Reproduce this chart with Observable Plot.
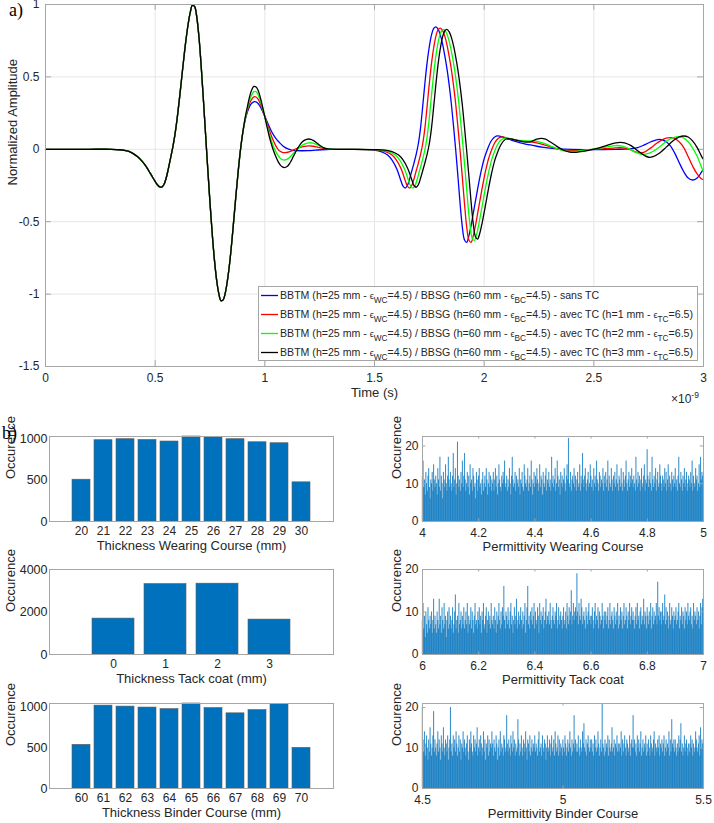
<!DOCTYPE html>
<html>
<head>
<meta charset="utf-8">
<script src="https://cdn.jsdelivr.net/npm/d3@7"></script>
<script src="https://cdn.jsdelivr.net/npm/@observablehq/plot@0.6"></script>
<style>
  body { margin: 0; background: #fff; }
  #fig { position: relative; width: 714px; height: 823px; overflow: hidden; background: #fff;
         font-family: "Liberation Sans", Arial, Helvetica, sans-serif; color: #262626; }
  #fig > * { position: absolute; }
  #fig svg { display: block; }
  .tag { font-family: "Liberation Serif", "Times New Roman", serif; font-size: 18px; line-height: 20px; color: #000; }
  .legend { border: 1px solid #a6a6a6; background: #fff; box-sizing: border-box; font-size: 10.6px; color: #262626; }
  .legend .row { position: absolute; left: 2px; height: 14px; line-height: 14px; white-space: nowrap; }
  .legend .swatch { position: absolute; left: 0; top: 0; }
  .legend .txt { position: absolute; left: 19px; top: 0; }
  .eps { font-size: 0.85em; }
  .legend sub { font-size: 0.78em; vertical-align: -0.45em; line-height: 0; }
  .exp { font-size: 12px; line-height: 12px; color: #262626; }
  .exp sup { font-size: 8.5px; vertical-align: 0.55em; line-height: 0; }
</style>
</head>
<body>
<div id="fig"></div>
<script>
// ---------- a) normalized radar traces, time in ns ----------
const runs = ["sans TC", "TC 1 mm", "TC 2 mm", "TC 3 mm"];
const runColors = ["#0000ff", "#ff0000", "#00ff00", "#000000"];
const legendTexts = [
  'BBTM (h=25 mm - <span class="eps">ϵ</span><sub>WC</sub>=4.5) / BBSG (h=60 mm - <span class="eps">ϵ</span><sub>BC</sub>=4.5) - sans TC',
  'BBTM (h=25 mm - <span class="eps">ϵ</span><sub>WC</sub>=4.5) / BBSG (h=60 mm - <span class="eps">ϵ</span><sub>BC</sub>=4.5) - avec TC (h=1 mm - <span class="eps">ϵ</span><sub>TC</sub>=6.5)',
  'BBTM (h=25 mm - <span class="eps">ϵ</span><sub>WC</sub>=4.5) / BBSG (h=60 mm - <span class="eps">ϵ</span><sub>BC</sub>=4.5) - avec TC (h=2 mm - <span class="eps">ϵ</span><sub>TC</sub>=6.5)',
  'BBTM (h=25 mm - <span class="eps">ϵ</span><sub>WC</sub>=4.5) / BBSG (h=60 mm - <span class="eps">ϵ</span><sub>BC</sub>=4.5) - avec TC (h=3 mm - <span class="eps">ϵ</span><sub>TC</sub>=6.5)'
];
const timeTicks = [0, 0.5, 1, 1.5, 2, 2.5, 3];
const ampTicks = [-1.5, -1, -0.5, 0, 0.5, 1];

// direct wave, identical for the four structures: [t (ns), amplitude]
const onsetTrace = [[0,0],[0.1,0],[0.2,0],[0.3,0],[0.34,-0.003],[0.36,-0.007],[0.38,-0.015],[0.40,-0.030],[0.42,-0.052],[0.44,-0.082],[0.46,-0.122],[0.48,-0.172],[0.50,-0.222],[0.51,-0.245],[0.52,-0.259],[0.53,-0.261],[0.54,-0.243],[0.55,-0.200],[0.56,-0.135],[0.57,-0.062],[0.58,0.012],[0.59,0.100],[0.60,0.210],[0.61,0.340],[0.62,0.480],[0.63,0.620],[0.64,0.750],[0.65,0.860],[0.66,0.945],[0.67,0.995],[0.68,0.985],[0.69,0.910],[0.70,0.770],[0.71,0.570],[0.72,0.340],[0.73,0.100],[0.74,-0.140],[0.75,-0.370],[0.76,-0.580],[0.77,-0.760],[0.78,-0.900],[0.79,-0.995],[0.80,-1.045],[0.81,-1.040],[0.82,-0.990],[0.83,-0.900],[0.84,-0.780],[0.85,-0.630],[0.86,-0.460],[0.87,-0.290],[0.88,-0.130],[0.89,0.010],[0.90,0.120]];

// surface / interface echoes for each structure
const echoSansTC = [[0.91,0.200],[0.92,0.255],[0.93,0.295],[0.94,0.318],[0.95,0.328],[0.96,0.327],[0.97,0.315],[0.98,0.292],[0.99,0.262],[1.00,0.228],[1.01,0.192],[1.02,0.157],[1.03,0.125],[1.04,0.098],[1.05,0.076],[1.06,0.057],[1.07,0.041],[1.08,0.027],[1.09,0.015],[1.10,0.006],[1.11,0.000],[1.12,-0.005],[1.14,-0.009],[1.17,-0.010],[1.20,-0.009],[1.23,-0.006],[1.26,-0.003],[1.30,-0.001],[1.40,0],[1.46,-0.002],
  [1.50,-0.006],[1.53,-0.016],[1.56,-0.040],[1.58,-0.075],[1.60,-0.130],[1.61,-0.170],[1.62,-0.215],[1.63,-0.255],[1.64,-0.268],[1.65,-0.250],[1.66,-0.205],[1.67,-0.150],[1.68,-0.095],[1.69,-0.035],[1.70,0.040],[1.71,0.150],[1.72,0.300],[1.73,0.460],[1.74,0.600],[1.75,0.710],[1.76,0.790],[1.77,0.835],[1.78,0.846],[1.79,0.830],[1.80,0.790],[1.81,0.730],[1.82,0.650],[1.83,0.560],[1.84,0.450],[1.85,0.320],[1.86,0.165],[1.87,0.000],[1.88,-0.180],[1.89,-0.370],[1.90,-0.530],[1.91,-0.625],[1.92,-0.643],[1.93,-0.600],[1.94,-0.530],[1.95,-0.445],[1.96,-0.360],[1.97,-0.275],[1.98,-0.195],[1.99,-0.125],[2.00,-0.065],[2.01,-0.020],[2.02,0.020],[2.03,0.052],[2.04,0.074],[2.05,0.087],[2.06,0.092],[2.07,0.091],[2.08,0.087],[2.10,0.076],
  [2.12,0.066],[2.15,0.052],[2.18,0.040],[2.21,0.030],[2.24,0.021],[2.27,0.014],[2.30,0.008],[2.34,0.003],[2.40,0.000],[2.50,-0.002],[2.60,0.000],[2.66,0.003],[2.70,0.012],[2.73,0.030],[2.76,0.052],[2.79,0.067],[2.81,0.066],[2.83,0.052],[2.85,0.022],[2.87,-0.030],[2.89,-0.095],[2.91,-0.155],[2.93,-0.198],[2.95,-0.212],[2.97,-0.200],[2.99,-0.160],[3.00,-0.135]];

const echoTC1 = [[0.91,0.205],[0.92,0.265],[0.93,0.315],[0.94,0.345],[0.95,0.362],[0.96,0.361],[0.97,0.345],[0.98,0.312],[0.99,0.270],[1.00,0.226],[1.01,0.180],[1.02,0.135],[1.03,0.092],[1.04,0.055],[1.05,0.024],[1.06,0.000],[1.07,-0.014],[1.08,-0.021],[1.09,-0.023],[1.10,-0.022],[1.11,-0.018],[1.12,-0.012],[1.13,-0.005],[1.14,0.002],[1.16,0.013],[1.18,0.020],[1.20,0.023],[1.22,0.021],[1.24,0.015],[1.26,0.008],[1.28,0.003],[1.30,0.000],[1.40,0],[1.48,-0.002],
  [1.52,-0.006],[1.55,-0.016],[1.58,-0.040],[1.60,-0.075],[1.62,-0.130],[1.63,-0.170],[1.64,-0.215],[1.65,-0.255],[1.66,-0.268],[1.67,-0.250],[1.68,-0.205],[1.69,-0.150],[1.70,-0.095],[1.71,-0.035],[1.72,0.040],[1.73,0.150],[1.74,0.300],[1.75,0.455],[1.76,0.595],[1.77,0.703],[1.78,0.782],[1.79,0.826],[1.80,0.837],[1.81,0.822],[1.82,0.783],[1.83,0.725],[1.84,0.645],[1.85,0.555],[1.86,0.445],[1.87,0.315],[1.88,0.160],[1.89,-0.005],[1.90,-0.185],[1.91,-0.370],[1.92,-0.530],[1.93,-0.625],[1.94,-0.643],[1.95,-0.600],[1.96,-0.530],[1.97,-0.445],[1.98,-0.360],[1.99,-0.275],[2.00,-0.195],[2.01,-0.125],[2.02,-0.065],[2.03,-0.020],[2.04,0.020],[2.05,0.050],[2.06,0.070],[2.07,0.081],[2.08,0.085],[2.09,0.084],[2.10,0.080],
  [2.12,0.072],[2.15,0.062],[2.18,0.056],[2.21,0.052],[2.24,0.045],[2.27,0.033],[2.30,0.018],[2.33,0.005],[2.37,-0.006],[2.41,-0.009],[2.45,-0.006],[2.50,0.000],[2.55,0.004],[2.60,0.010],[2.63,0.010],[2.66,0.002],[2.69,-0.018],[2.71,-0.024],[2.73,-0.020],[2.76,0.010],[2.79,0.045],[2.82,0.072],[2.85,0.080],[2.87,0.073],[2.89,0.050],[2.91,0.012],[2.93,-0.050],[2.95,-0.115],[2.97,-0.168],[2.99,-0.203],[3.00,-0.210]];

const echoTC2 = [[0.91,0.210],[0.92,0.275],[0.93,0.335],[0.94,0.375],[0.95,0.398],[0.96,0.398],[0.97,0.375],[0.98,0.333],[0.99,0.280],[1.00,0.225],[1.01,0.166],[1.02,0.110],[1.03,0.060],[1.04,0.018],[1.05,-0.016],[1.06,-0.042],[1.07,-0.061],[1.08,-0.072],[1.09,-0.074],[1.10,-0.070],[1.11,-0.060],[1.12,-0.045],[1.13,-0.028],[1.14,-0.012],[1.15,0.003],[1.16,0.016],[1.18,0.036],[1.20,0.045],[1.22,0.042],[1.24,0.030],[1.26,0.016],[1.28,0.006],[1.30,0.001],[1.40,0],[1.50,-0.002],
  [1.535,-0.006],[1.565,-0.016],[1.595,-0.040],[1.615,-0.075],[1.635,-0.130],[1.645,-0.170],[1.655,-0.215],[1.665,-0.255],[1.675,-0.268],[1.685,-0.250],[1.695,-0.205],[1.705,-0.150],[1.715,-0.095],[1.725,-0.035],[1.735,0.040],[1.745,0.148],[1.755,0.296],[1.765,0.450],[1.775,0.588],[1.785,0.695],[1.795,0.773],[1.805,0.817],[1.815,0.828],[1.825,0.813],[1.835,0.775],[1.845,0.718],[1.855,0.640],[1.865,0.550],[1.875,0.440],[1.885,0.312],[1.895,0.158],[1.905,-0.005],[1.915,-0.180],[1.925,-0.362],[1.935,-0.518],[1.945,-0.612],[1.955,-0.630],[1.965,-0.590],[1.975,-0.522],[1.985,-0.440],[1.995,-0.357],[2.005,-0.273],[2.015,-0.195],[2.025,-0.127],[2.035,-0.068],[2.045,-0.024],[2.055,0.014],[2.065,0.043],[2.075,0.062],[2.085,0.072],[2.095,0.076],[2.11,0.075],
  [2.13,0.070],[2.16,0.062],[2.19,0.058],[2.22,0.058],[2.25,0.052],[2.28,0.037],[2.31,0.018],[2.34,0.000],[2.37,-0.013],[2.40,-0.015],[2.44,-0.010],[2.48,-0.002],[2.52,0.006],[2.56,0.016],[2.60,0.026],[2.63,0.022],[2.66,0.005],[2.69,-0.020],[2.72,-0.035],[2.75,-0.028],[2.78,-0.005],[2.81,0.030],[2.84,0.065],[2.87,0.084],[2.89,0.087],[2.91,0.078],[2.93,0.052],[2.95,0.010],[2.97,-0.045],[2.99,-0.120],[3.00,-0.155]];

const echoTC3 = [[0.91,0.215],[0.92,0.290],[0.93,0.360],[0.94,0.410],[0.95,0.434],[0.96,0.430],[0.97,0.405],[0.98,0.355],[0.99,0.292],[1.00,0.224],[1.01,0.155],[1.02,0.090],[1.03,0.035],[1.04,-0.012],[1.05,-0.050],[1.06,-0.083],[1.07,-0.107],[1.08,-0.121],[1.09,-0.126],[1.10,-0.121],[1.11,-0.105],[1.12,-0.080],[1.13,-0.050],[1.14,-0.020],[1.15,0.008],[1.16,0.031],[1.17,0.050],[1.18,0.062],[1.19,0.069],[1.20,0.071],[1.21,0.069],[1.22,0.062],[1.23,0.052],[1.24,0.040],[1.25,0.028],[1.26,0.018],[1.27,0.010],[1.28,0.005],[1.30,0.001],[1.40,0],[1.50,-0.002],
  [1.55,-0.006],[1.58,-0.016],[1.61,-0.040],[1.63,-0.073],[1.65,-0.127],[1.66,-0.166],[1.67,-0.210],[1.68,-0.250],[1.69,-0.262],[1.70,-0.245],[1.71,-0.200],[1.72,-0.147],[1.73,-0.093],[1.74,-0.034],[1.75,0.040],[1.76,0.148],[1.77,0.296],[1.78,0.450],[1.79,0.588],[1.80,0.695],[1.81,0.773],[1.82,0.817],[1.83,0.828],[1.84,0.813],[1.85,0.775],[1.86,0.718],[1.87,0.640],[1.88,0.550],[1.89,0.440],[1.90,0.312],[1.91,0.158],[1.92,-0.005],[1.93,-0.178],[1.94,-0.357],[1.95,-0.510],[1.96,-0.602],[1.97,-0.620],[1.98,-0.580],[1.99,-0.515],[2.00,-0.435],[2.01,-0.352],[2.02,-0.270],[2.03,-0.193],[2.04,-0.125],[2.05,-0.068],[2.06,-0.025],[2.07,0.012],[2.08,0.040],[2.09,0.060],[2.10,0.071],[2.11,0.074],[2.12,0.072],
  [2.15,0.062],[2.18,0.052],[2.20,0.050],[2.22,0.057],[2.24,0.070],[2.26,0.076],[2.28,0.070],[2.30,0.052],[2.33,0.022],[2.36,-0.005],[2.39,-0.019],[2.42,-0.021],[2.45,-0.015],[2.48,-0.005],[2.51,0.005],[2.54,0.018],[2.57,0.032],[2.60,0.044],[2.62,0.048],[2.64,0.045],[2.67,0.025],[2.70,-0.010],[2.73,-0.042],[2.75,-0.055],[2.77,-0.050],[2.80,-0.025],[2.83,0.015],[2.86,0.058],[2.89,0.086],[2.91,0.092],[2.93,0.085],[2.95,0.058],[2.97,0.015],[2.99,-0.045],[3.00,-0.070]];

// ---------- b) Monte-Carlo draws of layer thickness and permittivity ----------
const wearingThickness = [20, 21, 22, 23, 24, 25, 26, 27, 28, 29, 30];
const wearingThicknessCount = [508, 988, 1000, 991, 972, 1033, 1024, 1000, 963, 951, 476];
const tackThickness = [0, 1, 2, 3];
const tackThicknessCount = [1690, 3315, 3333, 1643];
const binderThickness = [60, 61, 62, 63, 64, 65, 66, 67, 68, 69, 70];
const binderThicknessCount = [537, 1020, 1008, 996, 977, 1046, 990, 925, 965, 1040, 500];

const wearingPermittivityRange = [4, 5];
const wearingPermittivityCount = [
  12,16,9,11,7,13,10,8,12,14,9,6,11,10,13,8,15,11,9,12,
  10,7,14,11,9,17,8,12,10,6,13,11,9,15,10,8,12,17,11,9,
  13,10,8,12,18,9,11,14,7,10,21,12,9,11,8,13,10,16,9,12,
  18,11,8,10,13,9,12,7,15,10,11,8,14,12,9,10,6,13,11,8,
  12,14,9,10,7,11,13,8,10,12,9,14,11,7,10,13,9,12,8,11,
  10,13,8,11,14,9,12,7,10,15,11,9,8,12,10,13,11,16,9,10,
  12,8,11,9,14,10,7,12,17,11,9,10,13,8,12,10,11,9,14,7,
  11,10,13,9,8,15,12,10,9,11,14,8,10,12,9,16,11,7,10,13,
  9,12,10,14,11,8,10,15,9,12,11,7,13,10,9,12,14,8,11,10,
  13,9,11,8,17,10,12,9,11,14,8,10,16,12,9,11,7,13,10,12,
  9,11,14,10,8,12,15,11,22,10,9,13,8,11,12,10,14,9,12,8,
  11,13,9,10,15,8,12,10,18,11,9,12,14,10,8,11,13,9,10,15,
  12,9,11,8,14,10,12,9,16,11,10,8,13,12,9,11,10,14,8,12,
  10,13,9,11,16,8,12,10,9,14,11,8,12,10,13,9,11,15,10,8,
  12,11,9,14,10,8,13,11,9,12,16,10,8,11,13,9,12,10,14,11,
  9,12,10,8,17,11,9,13,10,12,8,11,14,9,10,12,15,8,11,10,
  19,12,9,11,13,10,8,17,11,9,12,10,14,8,11,13,9,10,15,12,
  10,8,12,11,9,14,10,13,8,11,15,9,12,10,8,13,11,9,12,10,
  14,9,11,8,12,17,10,9,13,11,8,12,10,14,9,11,13,8,10,12,
  11,9,13,10,16,8,12,10,9,14,11,12,8,10,15,9,17,11,13,12];

const tackPermittivityRange = [6, 7];
const tackPermittivityCount = [
  8,12,6,9,4,10,7,5,11,8,6,9,7,10,5,8,13,6,9,7,
  5,10,8,6,13,7,9,5,11,8,6,12,7,9,4,8,10,6,11,7,
  9,6,8,11,5,7,10,14,6,8,9,5,12,7,8,10,6,9,7,11,
  6,8,10,7,12,5,9,7,8,11,6,10,8,5,9,12,7,8,6,10,
  8,11,7,9,5,10,8,12,6,7,9,11,5,8,10,7,9,6,12,8,
  7,9,6,11,8,5,10,7,9,12,8,6,10,7,11,9,16,8,6,10,
  9,7,11,8,6,10,12,7,9,5,8,11,7,9,13,6,8,10,7,9,
  11,8,6,10,7,9,12,5,8,11,16,7,9,6,10,8,11,7,9,12,
  6,10,8,7,11,9,5,12,8,10,7,9,11,6,8,10,13,7,9,8,
  10,7,12,8,6,9,11,8,7,10,9,12,6,8,11,7,9,10,8,6,
  9,11,7,8,10,6,12,9,7,11,8,10,15,7,9,12,8,10,11,9,
  19,10,7,12,9,8,13,11,7,9,10,8,6,11,9,7,10,12,8,9,
  7,9,11,8,6,10,12,7,9,8,11,6,10,9,7,8,12,9,6,10,
  8,10,7,9,11,6,8,12,7,9,10,8,6,11,9,7,10,8,12,6,
  9,7,11,8,10,6,9,12,7,8,11,9,6,10,8,12,7,9,11,8,
  10,8,6,9,11,7,12,8,9,6,10,11,7,9,8,13,7,10,9,6,
  11,9,7,10,8,12,6,9,11,7,10,8,9,12,7,17,9,11,8,10,
  7,10,12,8,9,14,7,11,8,10,6,9,12,7,8,11,9,6,10,8,
  9,11,7,8,10,12,6,9,8,11,7,10,9,6,11,8,10,7,12,9,
  8,10,11,7,9,6,12,8,10,9,7,11,8,10,6,9,12,7,11,13];

const binderPermittivityRange = [4.5, 5.5];
const binderPermittivityCount = [
  20,12,9,14,8,11,13,10,7,12,9,15,11,8,10,13,19,9,12,10,
  8,11,14,9,12,10,7,13,11,9,15,10,8,12,11,9,13,7,10,12,
  20,9,11,8,13,10,12,9,14,11,8,10,13,9,12,7,11,10,14,9,
  12,10,8,11,13,9,7,12,10,14,11,9,8,13,10,12,9,11,15,8,
  10,12,9,13,11,8,10,14,9,12,7,11,10,13,8,12,9,11,10,14,
  11,8,12,10,9,13,11,7,10,12,8,14,9,11,10,8,13,12,9,10,
  18,11,9,12,10,8,13,11,9,14,10,12,8,11,9,10,17,12,8,11,
  9,13,10,8,12,11,9,14,10,7,12,11,9,13,8,10,12,9,11,10,
  13,9,11,10,8,12,14,9,10,11,8,13,10,9,12,11,7,10,13,9,
  10,12,8,11,13,9,10,12,8,14,11,9,10,13,8,12,9,11,10,8,
  12,10,9,13,11,8,10,12,9,11,14,10,8,12,9,11,18,10,12,9,
  11,9,13,10,8,12,10,9,14,11,16,10,9,12,8,11,13,10,9,12,
  10,12,9,11,8,13,10,12,9,10,14,11,8,10,12,9,21,11,10,8,
  12,9,11,10,13,8,12,10,9,11,15,9,10,12,8,11,10,13,9,11,
  9,11,10,14,8,12,9,11,13,10,8,12,11,9,10,13,8,11,12,10,
  18,10,12,9,11,8,13,10,12,9,11,14,8,10,12,9,11,10,13,8,
  11,9,12,10,8,13,11,9,10,12,14,8,11,10,9,12,10,13,8,11,
  10,12,9,11,13,8,10,12,9,11,10,14,8,12,9,17,11,10,12,9,
  12,10,8,11,9,13,10,12,16,9,11,8,10,13,9,11,12,10,8,11,
  9,11,13,10,12,8,11,9,10,14,12,10,9,11,13,8,15,10,12,11];

// ---------- drawing ----------
const fig = document.getElementById("fig");
const ink = "#262626";
const axisGray = "#a6a6a6";
const baseStyle = {fontFamily: '"Liberation Sans", Arial, Helvetica, sans-serif', fontSize: "12px", color: ink, background: "transparent", overflow: "visible"};

function place(node, left, top) {
  node.style.left = left + "px";
  node.style.top = top + "px";
  fig.appendChild(node);
  return node;
}

// inward ticks on all four sides, in the style of a boxed axes
function boxTicks(xTicks, yTicks, xLim, yLim, fx, fy) {
  const lx = (xLim[1] - xLim[0]) * fx, ly = (yLim[1] - yLim[0]) * fy;
  const marks = [];
  if (xTicks) {
    marks.push(Plot.ruleX(xTicks, {x: d => d, y1: yLim[0], y2: yLim[0] + ly, stroke: axisGray}));
    marks.push(Plot.ruleX(xTicks, {x: d => d, y1: yLim[1], y2: yLim[1] - ly, stroke: axisGray}));
  }
  marks.push(Plot.ruleY(yTicks, {y: d => d, x1: xLim[0], x2: xLim[0] + lx, stroke: axisGray}));
  marks.push(Plot.ruleY(yTicks, {y: d => d, x1: xLim[1], x2: xLim[1] - lx, stroke: axisGray}));
  return marks;
}

const traceParts = [echoSansTC, echoTC1, echoTC2, echoTC3];
const traces = runs.flatMap((run, i) =>
  onsetTrace.concat(traceParts[i]).map(([t, amp]) => ({run, t, amp})));

const tLim = [0, 3], ampLim = [-1.5, 1];
const mainChart = Plot.plot({
  width: 714, height: 410,
  marginLeft: 45, marginRight: 11, marginTop: 4, marginBottom: 44,
  style: baseStyle,
  x: {domain: tLim},
  y: {domain: ampLim},
  color: {domain: runs, range: runColors},
  marks: [
    Plot.gridX(timeTicks, {stroke: "#e6e6e6", strokeOpacity: 1}),
    Plot.gridY(ampTicks, {stroke: "#e6e6e6", strokeOpacity: 1}),
    Plot.axisX({ticks: timeTicks, tickSize: 0, tickPadding: 7, tickFormat: d => String(d), label: null, fontSize: 12}),
    Plot.axisY({ticks: ampTicks, tickSize: 0, tickPadding: 6, tickFormat: d => String(d), label: null, fontSize: 12}),
    ...boxTicks(timeTicks, ampTicks, tLim, ampLim, 0.009, 0.016),
    Plot.line(traces, {x: "t", y: "amp", z: "run", stroke: "run", strokeWidth: 1.3, curve: "catmull-rom"}),
    Plot.frame({stroke: axisGray}),
    Plot.text(["Time (s)"], {text: d => d, frameAnchor: "bottom", dy: 30, fontSize: 13, fill: ink}),
    Plot.text(["Normalized Amplitude"], {text: d => d, frameAnchor: "left", dx: -33, rotate: -90, fontSize: 13, fill: ink})
  ]
});
place(mainChart, 0, 0);

const tagA = document.createElement("div");
tagA.className = "tag"; tagA.textContent = "a)";
place(tagA, 9, 0);

const expo = document.createElement("div");
expo.className = "exp"; expo.innerHTML = "×10<sup>-9</sup>";
place(expo, 671, 393);

const legend = document.createElement("div");
legend.className = "legend";
legend.style.width = "440px"; legend.style.height = "75px";
legend.innerHTML = legendTexts.map((txt, i) =>
  `<div class="row" style="top:${1 + i * 19}px"><svg class="swatch" width="18" height="14"><line x1="0" x2="17" y1="7.5" y2="7.5" stroke="${runColors[i]}" stroke-width="1.3"/></svg><span class="txt">${txt}</span></div>`).join("");
place(legend, 258, 286);

// bar panels: thickness draws
function barPanel(values, counts, yMax, yTicks, label) {
  const data = values.map((v, i) => ({v, n: counts[i]}));
  return Plot.plot({
    width: 357, height: 129,
    marginLeft: 49, marginRight: 24, marginTop: 6, marginBottom: 38,
    style: baseStyle,
    x: {type: "band", domain: values, paddingInner: 0.2, paddingOuter: 0.8},
    y: {domain: [0, yMax]},
    marks: [
      Plot.barY(data, {x: "v", y: "n", fill: "#0072bd", stroke: "#5a5a5a", strokeWidth: 0.6}),
      Plot.axisX({tickSize: 0, tickPadding: 5, label: null, fontSize: 12}),
      Plot.axisY({ticks: yTicks, tickSize: 0, tickPadding: 2, tickFormat: d => String(d), label: null, fontSize: 12.5}),
      Plot.frame({stroke: axisGray}),
      Plot.text([label], {text: d => d, frameAnchor: "bottom", dy: 28, fontSize: 13, fill: ink}),
      Plot.text(["Occurence"], {text: d => d, frameAnchor: "left", dx: -39, rotate: -90, fontSize: 13, fill: ink})
    ]
  });
}

// histogram panels: permittivity draws (thin, slightly overlapping translucent bins)
function histPanel(range, counts, yMax, xTicks, yTicks, label) {
  const w = (range[1] - range[0]) / counts.length;
  const bins = counts.map((n, i) => ({x1: range[0] + i * w, x2: range[0] + (i + 1) * w, n}));
  return Plot.plot({
    width: 354, height: 129,
    marginLeft: 62, marginRight: 11, marginTop: 6, marginBottom: 38,
    style: baseStyle,
    x: {domain: range},
    y: {domain: [0, yMax]},
    marks: [
      Plot.rectY(bins, {x1: "x1", x2: "x2", y: "n", fill: "#0072bd", fillOpacity: 0.78, insetLeft: -0.18, insetRight: -0.18}),
      Plot.axisX({ticks: xTicks, tickSize: 0, tickPadding: 7, tickFormat: d => String(d), label: null, fontSize: 12}),
      Plot.axisY({ticks: yTicks, tickSize: 0, tickPadding: 4, tickFormat: d => String(d), label: null, fontSize: 12}),
      ...boxTicks(xTicks, yTicks, range, [0, yMax], 0.012, 0.03),
      Plot.frame({stroke: axisGray}),
      Plot.text([label], {text: d => d, frameAnchor: "bottom", dy: 29, fontSize: 13, fill: ink}),
      Plot.text(["Occurence"], {text: d => d, frameAnchor: "left", dx: -26, rotate: -90, fontSize: 13, fill: ink})
    ]
  });
}

place(barPanel(wearingThickness, wearingThicknessCount, d3.max(wearingThicknessCount), [0, 500, 1000], "Thickness Wearing Course (mm)"), 0, 430);
place(histPanel(wearingPermittivityRange, wearingPermittivityCount, 22.5, [4, 4.2, 4.4, 4.6, 4.8, 5], [0, 10, 20], "Permittivity Wearing Course"), 360, 430);
place(barPanel(tackThickness, tackThicknessCount, 4000, [0, 2000, 4000], "Thickness Tack coat (mm)"), 0, 563);
place(histPanel(tackPermittivityRange, tackPermittivityCount, 20, [6, 6.2, 6.4, 6.6, 6.8, 7], [0, 10, 20], "Permittivity Tack coat"), 360, 563);
place(barPanel(binderThickness, binderThicknessCount, d3.max(binderThicknessCount), [0, 500, 1000], "Thickness Binder Course (mm)"), 0, 697);
place(histPanel(binderPermittivityRange, binderPermittivityCount, 21, [4.5, 5, 5.5], [0, 10, 20], "Permittivity Binder Course"), 360, 697);

const tagB = document.createElement("div");
tagB.className = "tag"; tagB.textContent = "b)";
place(tagB, 2, 423);
</script>
</body>
</html>
